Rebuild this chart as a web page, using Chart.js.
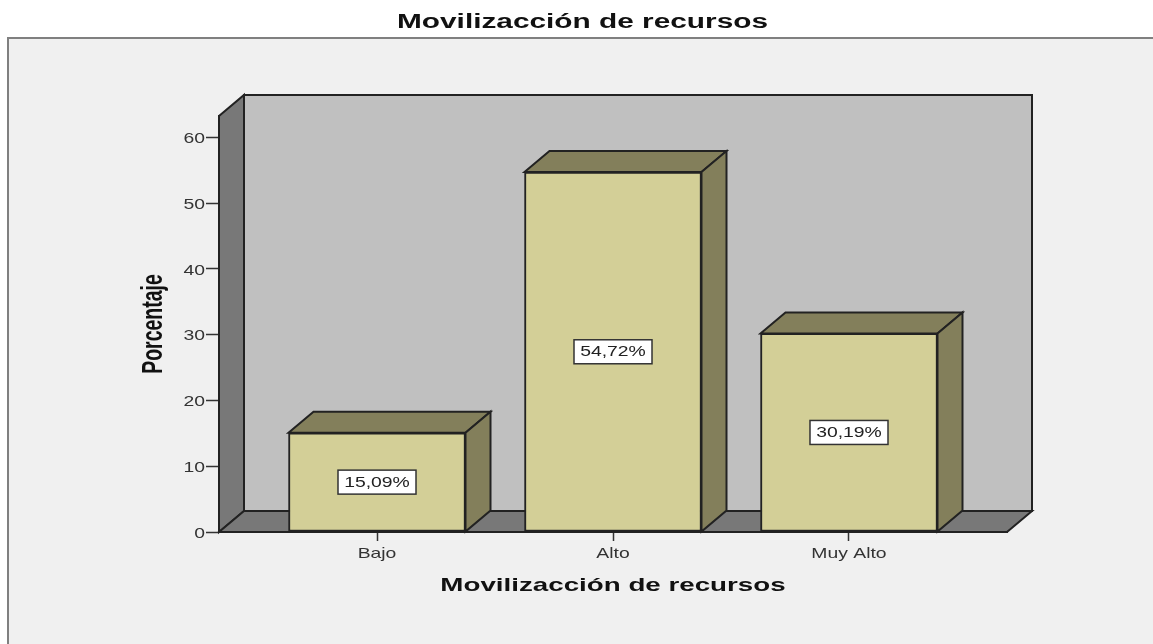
<!DOCTYPE html>
<html>
<head>
<meta charset="utf-8">
<script src="https://cdn.jsdelivr.net/npm/chart.js@4"></script>
<style>
  html, body { margin: 0; padding: 0; background: #fff; }
  #wrap { width: 1153px; height: 644px; }
  /* the reference is a soft, rescaled screenshot */
  #chart { filter: blur(0.45px); }
</style>
</head>
<body>
<div id="wrap"><canvas id="chart"></canvas></div>
<script>
const categories = ['Bajo', 'Alto', 'Muy Alto'];
const values = [15.09, 54.72, 30.19];
const yTickStep = 10;
const yMax = 63.24;
const titleText = 'Movilizacción de recursos';
const xTitleText = 'Movilizacción de recursos';
const yTitleText = 'Porcentaje';

const lineColor = '#222';
const depthX = 25, depthY = 21; // 3d offset of the box

// the reference screenshot is stretched sideways, text has to follow
const stretchBySize = { '15': 1.29, '19': 1.46, '20': 1.49, '19.5': 1.5 };

function poly(ctx, pts, fill) {
  ctx.beginPath();
  pts.forEach((p, i) => i ? ctx.lineTo(p[0], p[1]) : ctx.moveTo(p[0], p[1]));
  ctx.closePath();
  ctx.fillStyle = fill;
  ctx.fill();
  ctx.stroke();
}

const box3d = {
  id: 'box3d',
  beforeInit(chart) {
    const ctx = chart.ctx;
    const rawFill = ctx.fillText.bind(ctx);
    ctx.fillText = (text, x, y, maxW) => {
      const size = (ctx.font.match(/([\d.]+)px/) || [])[1];
      const sx = stretchBySize[size] || 1;
      const m = ctx.getTransform();
      ctx.save();
      ctx.setTransform(1, 0, 0, 1, m.a * x + m.c * y + m.e, m.b * x + m.d * y + m.f);
      ctx.scale(sx, 1);
      ctx.transform(m.a, m.b, m.c, m.d, 0, 0);
      rawFill(text, 0, size === '15' ? 1.5 : 0, maxW);
      ctx.restore();
    };
  },
  afterLayout(chart) {
    // main title sits a bit right of the plot centre
    chart.titleBlock.left += 8;
    chart.titleBlock.right += 8;
  },
  beforeDraw(chart) {
    const ctx = chart.ctx;
    const { left, right, top, bottom } = chart.chartArea;
    ctx.save();
    // grey panel with the frame, open at right and bottom
    ctx.fillStyle = '#f0f0f0';
    ctx.fillRect(8, 38, chart.width - 8, chart.height - 38);
    ctx.strokeStyle = '#808080';
    ctx.lineWidth = 2;
    ctx.beginPath();
    ctx.moveTo(8, chart.height);
    ctx.lineTo(8, 38);
    ctx.lineTo(chart.width, 38);
    ctx.stroke();
    // walls
    ctx.strokeStyle = lineColor;
    ctx.lineJoin = 'miter';
    poly(ctx, [[left + depthX, top - depthY], [right + depthX, top - depthY], [right + depthX, bottom - depthY], [left + depthX, bottom - depthY]], '#c0c0c0');
    poly(ctx, [[left, top], [left + depthX, top - depthY], [left + depthX, bottom - depthY], [left, bottom]], '#787878');
    poly(ctx, [[left, bottom], [left + depthX, bottom - depthY], [right + depthX, bottom - depthY], [right, bottom]], '#787878');
    ctx.restore();
  },
  beforeDatasetsDraw(chart) {
    const ctx = chart.ctx;
    ctx.save();
    ctx.strokeStyle = lineColor;
    ctx.lineWidth = 2;
    chart.getDatasetMeta(0).data.forEach(bar => {
      const l = bar.x - bar.width / 2, r = bar.x + bar.width / 2;
      poly(ctx, [[l, bar.y], [l + depthX, bar.y - depthY], [r + depthX, bar.y - depthY], [r, bar.y]], '#837f5b');
      poly(ctx, [[r, bar.y], [r + depthX, bar.y - depthY], [r + depthX, bar.base - depthY], [r, bar.base]], '#837f5b');
    });
    ctx.restore();
  },
  afterDatasetsDraw(chart) {
    const ctx = chart.ctx;
    ctx.save();
    chart.getDatasetMeta(0).data.forEach((bar, i) => {
      const cy = (bar.y + bar.base) / 2;
      ctx.fillStyle = '#fff';
      ctx.strokeStyle = '#333';
      ctx.lineWidth = 1.5;
      ctx.fillRect(bar.x - 39, cy - 12, 78, 24);
      ctx.strokeRect(bar.x - 39, cy - 12, 78, 24);
      ctx.fillStyle = '#222';
      ctx.font = '15px "Liberation Sans"';
      ctx.textAlign = 'center';
      ctx.textBaseline = 'middle';
      ctx.fillText(values[i].toFixed(2).replace('.', ',') + '%', bar.x, cy - 1);
    });
    ctx.restore();
  }
};

new Chart(document.getElementById('chart'), {
  type: 'bar',
  plugins: [box3d],
  data: {
    datasets: [{
      data: values.map((v, i) => ({ x: i, y: v })),
      backgroundColor: '#d3cf97',
      borderColor: lineColor,
      borderWidth: 2,
      borderSkipped: false,
      barThickness: 177
    }]
  },
  options: {
    responsive: true,
    maintainAspectRatio: false,
    animation: false,
    layout: { padding: { left: 142, right: 146, top: 0, bottom: 47 } },
    plugins: {
      legend: { display: false },
      tooltip: { enabled: false },
      title: {
        display: true,
        text: titleText,
        color: '#111',
        font: { family: '"Liberation Sans"', size: 20, weight: 'bold' },
        padding: { top: 10, bottom: 82 }
      }
    },
    scales: {
      x: {
        type: 'linear',
        offset: false,
        min: -0.6695,
        max: 2.6695,
        afterFit(scale) { scale.height = 65; },
        border: { color: lineColor, width: 2 },
        grid: { offset: false, drawOnChartArea: false, tickLength: 9, tickColor: '#333', tickWidth: 1.5 },
        ticks: {
          stepSize: 1,
          includeBounds: false,
          autoSkip: false,
          maxRotation: 0,
          padding: 2,
          color: '#333',
          font: { family: '"Liberation Sans"', size: 15 },
          callback: v => categories[v]
        },
        title: {
          display: true,
          text: xTitleText,
          color: '#111',
          font: { family: '"Liberation Sans"', size: 19, weight: 'bold' },
          padding: 0
        }
      },
      y: {
        min: 0,
        max: yMax,
        afterFit(scale) { scale.width = 77; },
        border: { color: lineColor, width: 2 },
        grid: { drawOnChartArea: false, tickLength: 13, tickColor: '#333', tickWidth: 1.5 },
        ticks: {
          stepSize: yTickStep,
          includeBounds: false,
          padding: 1,
          color: '#333',
          font: { family: '"Liberation Sans"', size: 15 }
        },
        title: {
          display: true,
          text: yTitleText,
          color: '#111',
          font: { family: '"Liberation Sans"', size: 19.5, weight: 'bold' },
          padding: 0
        }
      }
    }
  }
});
</script>
</body>
</html>
